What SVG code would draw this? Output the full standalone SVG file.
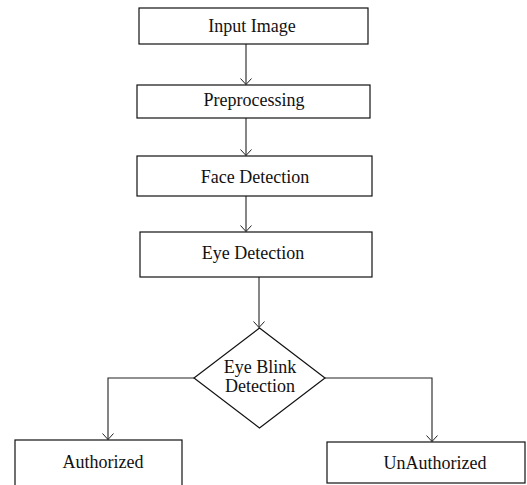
<svg xmlns="http://www.w3.org/2000/svg" width="527" height="485" viewBox="0 0 527 485">
  <defs>
    <!-- open V arrowhead, pointing along +x before orientation -->
    <marker id="arrow" markerWidth="8" markerHeight="12" refX="7" refY="6" orient="auto" markerUnits="userSpaceOnUse" viewBox="0 0 8 12">
      <path d="M1,0.5 L7,6 L1,11.5" fill="none" stroke="#222" stroke-width="1"/>
    </marker>
  </defs>
  <style>
    .box { fill: #fff; stroke: #111; stroke-width: 1.2; }
    .label { font-family: "Liberation Serif", "Times New Roman", serif; font-size: 18px; fill: #111; text-anchor: middle; }
    .link { fill: none; stroke: #222; stroke-width: 1.1; }
  </style>
  <rect width="527" height="485" fill="#fff"/>

  <g id="connectors">
    <path class="link" d="M246,44 V84.5" marker-end="url(#arrow)"/>
    <path class="link" d="M246,118 V155.5" marker-end="url(#arrow)"/>
    <path class="link" d="M246,196 V231.5" marker-end="url(#arrow)"/>
    <path class="link" d="M259,277 V327.5" marker-end="url(#arrow)"/>
    <path class="link" d="M194,378 H108 V439.5" marker-end="url(#arrow)"/>
    <path class="link" d="M325,378 H432 V441.5" marker-end="url(#arrow)"/>
  </g>

  <g id="input-image">
    <rect class="box" x="139" y="8" width="229" height="36"/>
    <text class="label" x="252" y="32">Input Image</text>
  </g>

  <g id="preprocessing">
    <rect class="box" x="137" y="85" width="233" height="33"/>
    <text class="label" x="254" y="106">Preprocessing</text>
  </g>

  <g id="face-detection">
    <rect class="box" x="137" y="156" width="235" height="40"/>
    <text class="label" x="255" y="183">Face Detection</text>
  </g>

  <g id="eye-detection">
    <rect class="box" x="140" y="232" width="232" height="45"/>
    <text class="label" x="253" y="259">Eye Detection</text>
  </g>

  <g id="eye-blink-detection">
    <polygon class="box" points="259.5,328 325,378 259.5,428 194,378"/>
    <text class="label" x="260" y="373">Eye Blink</text>
    <text class="label" x="260" y="392">Detection</text>
  </g>

  <g id="authorized">
    <rect class="box" x="15" y="440" width="167" height="50"/>
    <text class="label" x="103" y="468">Authorized</text>
  </g>

  <g id="unauthorized">
    <rect class="box" x="327" y="442" width="198" height="41"/>
    <text class="label" x="435" y="469">UnAuthorized</text>
  </g>
</svg>
